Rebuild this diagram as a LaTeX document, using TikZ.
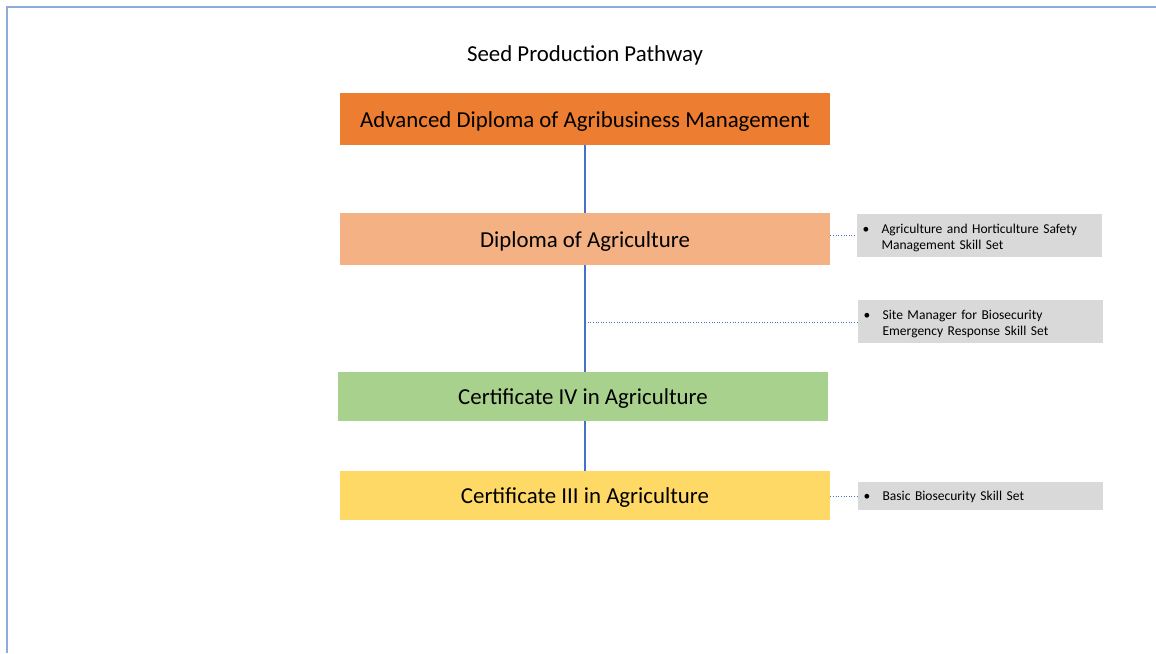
\documentclass[tikz,border=0pt]{standalone}
\usepackage{fontspec}
\setmainfont{Carlito}
\usepackage{tikz}
\usetikzlibrary{positioning,calc}
\definecolor{advcol}{HTML}{ED7D31}
\definecolor{dipcol}{HTML}{F4B183}
\definecolor{certfourcol}{HTML}{A9D18E}
\definecolor{certthreecol}{HTML}{FFD966}
\definecolor{skillcol}{HTML}{D9D9D9}
\definecolor{linkcol}{HTML}{4472C4}
\definecolor{framecol}{HTML}{8FAADC}
\tikzset{
  qualbox/.style={minimum width=98mm,minimum height=10.4mm,inner sep=0pt,
    text height=11.7pt,text depth=2.5pt,font=\fontsize{13}{16}\selectfont},
  skillbox/.style={fill=skillcol,text width=46.8mm,inner xsep=1.1mm,inner ysep=0pt,
    minimum height=8.6mm,align=left,font=\fontsize{7.7}{9.2}\selectfont},
  pathline/.style={linkcol,line width=0.6pt},
  skillline/.style={linkcol,line width=0.5pt,densely dotted}
}
\newcommand{\skilltext}[2][9.8pt]{\begin{tabular}{@{}l@{\hspace{7pt}}l@{}}\rule{0pt}{#1}#2\end{tabular}}
\begin{document}
\begin{tikzpicture}[x=0.2mm,y=-0.2mm]
% ==========================================
\useasboundingbox (0,0) rectangle (1156,653);
\draw[framecol,line width=1.2pt] (1156,7) -| (7,653);
%
\node (title) at (585,55) [font=\fontsize{13}{15}\selectfont] {Seed Production Pathway};
%
\node[qualbox,fill=advcol] (adv) at (585,119) {Advanced Diploma of Agribusiness Management};
\node[qualbox,fill=dipcol] (dip) at (585,239) {Diploma of Agriculture};
\node[qualbox,fill=certfourcol,minimum height=9.8mm] (certfour) at (583,396.5) {Certificate IV in Agriculture};
\node[qualbox,fill=certthreecol,minimum height=9.8mm] (certthree) at (585,495.5) {Certificate III in Agriculture};
%
\node[skillbox] (safety) at (979.5,235.5) {\skilltext{\textbullet & Agriculture and Horticulture Safety\\ & Management Skill Set}};
\node[skillbox] (site) at (980.5,321.5) {\skilltext{\textbullet & Site Manager for Biosecurity\\ & Emergency Response Skill Set}};
\node[skillbox,minimum height=5.6mm] (basic) at (980.5,496) {\skilltext[7.5pt]{\textbullet & Basic Biosecurity Skill Set}};
%
\draw[pathline] (adv.south) -- (adv.south |- dip.north);
\draw[pathline] (dip.south) -- (dip.south |- certfour.north);
\draw[pathline] (certfour.north |- certfour.south) ++(2,0) -- (certthree.north);
%
\coordinate (branch) at (585,322);
\draw[skillline] (safety.west -| dip.east) -- (safety.west);
\draw[skillline] (branch) -- (branch -| site.west);
\draw[skillline] (basic.west -| certthree.east) -- (basic.west);
% =============================================
\end{tikzpicture}
\end{document}
